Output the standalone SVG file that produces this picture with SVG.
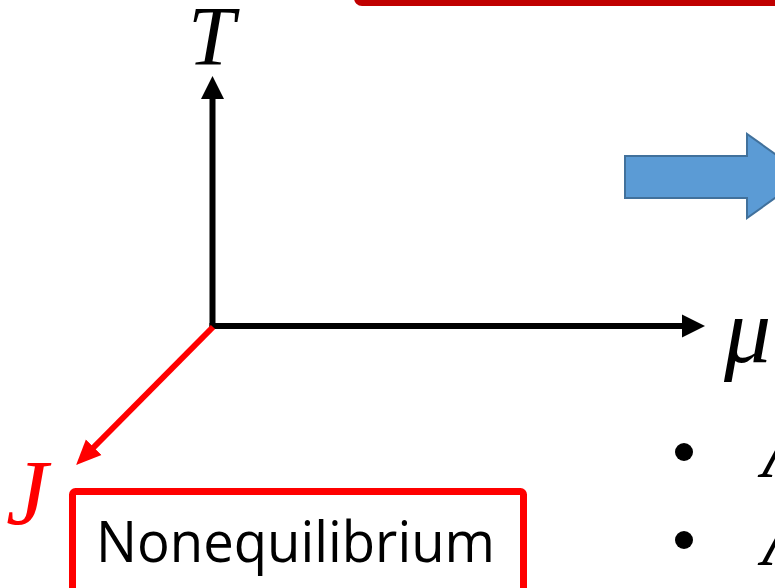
<svg xmlns="http://www.w3.org/2000/svg" width="775" height="588" viewBox="0 0 775 588">
<style>
.math{font-family:"Liberation Serif","DejaVu Serif",serif;font-style:italic;}
.axis{stroke:#000;stroke-width:6;fill:none;}
.jaxis{stroke:#FF0000;stroke-width:6;fill:none;}
.label{font-family:"Open Sans","Noto Sans",sans-serif;fill:#000;}
</style>
<defs>
<marker id="ah" markerUnits="userSpaceOnUse" markerWidth="24" markerHeight="24" viewBox="0 0 24 24" refX="1" refY="12" orient="auto">
<polygon points="0,0.5 23,12 0,23.5" fill="#000"/>
</marker>
<marker id="ahr" markerUnits="userSpaceOnUse" markerWidth="26" markerHeight="24" viewBox="0 0 26 24" refX="1" refY="12" orient="auto">
<polygon points="0,1 25,12 0,23" fill="#FF0000"/>
</marker>
</defs>
<rect width="775" height="588" fill="#fff"/>

<g id="top-box">
<rect x="357" y="-60" width="480" height="63" rx="5" fill="none" stroke="#C00000" stroke-width="6"/>
</g>

<g id="blue-arrow">
<polygon points="625,156 747,156 747,134 806,176 747,218 747,198 625,198" fill="#5B9BD5" stroke="#41719C" stroke-width="2" stroke-linejoin="miter"/>
</g>

<g id="connectors">
<line class="axis" x1="212.5" y1="329" x2="212.5" y2="98" marker-end="url(#ah)"/>
<line class="axis" x1="209.5" y1="326" x2="683" y2="326" marker-end="url(#ah)"/>
<line class="jaxis" x1="213" y1="327" x2="93" y2="448" marker-end="url(#ahr)"/>
</g>

<g id="label-T">
<text class="math" x="188" y="65" font-size="84" fill="#000">T</text>
</g>
<g id="label-mu">
<text class="math" x="724" y="362" font-size="94" fill="#000">μ</text>
</g>
<g id="label-J">
<text class="math" x="6" y="524" font-size="94" fill="#FF0000">J</text>
</g>

<g id="nonequilibrium">
<rect x="72.5" y="491.5" width="451" height="130" rx="3" fill="#fff" stroke="#FF0000" stroke-width="7"/>
<text class="label" x="96" y="562" font-size="56" textLength="399" lengthAdjust="spacingAndGlyphs">Nonequilibrium</text>
</g>

<g id="bullets">
<circle cx="684" cy="452" r="9" fill="#000"/>
<circle cx="684" cy="540" r="9" fill="#000"/>
<text class="math" x="762" y="477" font-size="80" fill="#000">A</text>
<text class="math" x="762" y="565" font-size="80" fill="#000">A</text>
</g>
</svg>
